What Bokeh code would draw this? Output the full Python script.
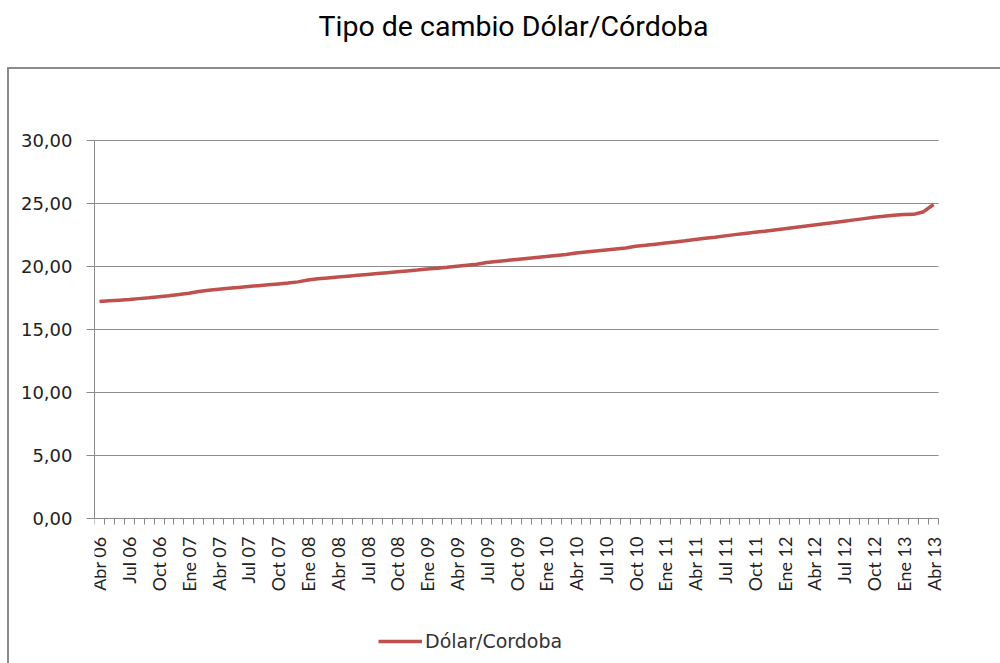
import math
from bokeh.plotting import figure
from bokeh.models import (Range1d, FixedTicker, Legend, LegendItem, Label)
from bokeh.embed import file_html
from bokeh.resources import INLINE

months = ["Abr", "May", "Jun", "Jul", "Ago", "Sep", "Oct", "Nov", "Dic"] + \
         ["Ene", "Feb", "Mar", "Abr", "May", "Jun", "Jul", "Ago", "Sep", "Oct", "Nov", "Dic"] * 6 + \
         ["Ene", "Feb", "Mar", "Abr"]
years = ["06"] * 9 + ["07"] * 12 + ["08"] * 12 + ["09"] * 12 + ["10"] * 12 + ["11"] * 12 + ["12"] * 12 + ["13"] * 4
categories = [f"{m} {y}" for m, y in zip(months, years)]

rate_2006 = [17.22, 17.28, 17.33, 17.38, 17.45, 17.52, 17.60, 17.68, 17.77]
rate_2007 = [17.88, 18.02, 18.12, 18.20, 18.27, 18.34, 18.41, 18.48, 18.55, 18.62, 18.69, 18.78]
rate_2008 = [18.93, 19.02, 19.09, 19.16, 19.23, 19.30, 19.37, 19.44, 19.51, 19.58, 19.65, 19.72]
rate_2009 = [19.80, 19.87, 19.94, 20.02, 20.10, 20.18, 20.32, 20.40, 20.48, 20.56, 20.64, 20.72]
rate_2010 = [20.80, 20.88, 20.96, 21.07, 21.15, 21.23, 21.31, 21.39, 21.47, 21.60, 21.68, 21.77]
rate_2011 = [21.86, 21.95, 22.04, 22.15, 22.24, 22.33, 22.43, 22.53, 22.62, 22.71, 22.80, 22.90]
rate_2012 = [23.00, 23.10, 23.20, 23.30, 23.40, 23.50, 23.60, 23.70, 23.80, 23.90, 23.98, 24.06]
rate_2013 = [24.12, 24.14, 24.35, 24.92]
rates = rate_2006 + rate_2007 + rate_2008 + rate_2009 + rate_2010 + rate_2011 + rate_2012 + rate_2013

y_ticks = [0, 5, 10, 15, 20, 25, 30]
y_tick_labels = ["0,00", "5,00", "10,00", "15,00", "20,00", "25,00", "30,00"]

n = len(categories)
xs = [i + 0.5 for i in range(n)]

W, H = 1000, 663
plot_left, plot_right = 94, 938   # pixel columns of the category axis ends
y0_px, y30_px = 518, 140          # pixel rows of 0 and 30
ppu = (y0_px - y30_px) / 30.0
ppx = (plot_right - plot_left) / n
x_hi = n + (W - plot_right) / ppx
y_lo = -(H - y0_px) / ppu
y_hi = 30 + y30_px / ppu

p = figure(width=W, height=H, output_backend="svg", toolbar_location=None, title=None,
           x_range=Range1d(0, x_hi), y_range=Range1d(y_lo, y_hi),
           min_border_left=plot_left, min_border_right=0,
           min_border_top=0, min_border_bottom=0)
p.outline_line_color = None
p.background_fill_alpha = 0
p.border_fill_alpha = 0

# Outer chart-area border (CSS lines behind the transparent canvas)
p.styles = {
    "background-color": "white",
    "background-image": "linear-gradient(#8a8a8a, #8a8a8a), linear-gradient(#8a8a8a, #8a8a8a)",
    "background-size": "2px 600px, 1000px 2px",
    "background-position": "7px 67px, 7px 67px",
    "background-repeat": "no-repeat",
}

# Title
p.add_layout(Label(x=(513 - plot_left) / ppx, y=30 + (y30_px - 26) / ppu,
                   text="Tipo de cambio Dólar/Córdoba",
                   text_align="center", text_baseline="alphabetic",
                   text_font="Roboto", text_font_size="28.5px", text_color="black"))

# Horizontal gridlines at the y ticks, spanning the category axis
p.xgrid.grid_line_color = None
p.ygrid.grid_line_color = None
p.segment(x0=0, x1=n, y0=y_ticks, y1=y_ticks, line_color="#8c8c8c", line_width=1)

line = p.line(xs, rates, line_color="#C0504D", line_width=3.5)

# X axis, fixed at y = 0
xax = p.xaxis[0]
xax.fixed_location = 0
xax.bounds = (0, n)
label_ticks = [i + 0.5 for i in range(0, n, 3)]
xax.ticker = FixedTicker(ticks=label_ticks, minor_ticks=list(range(n + 1)))
xax.major_label_overrides = {i + 0.5: categories[i] for i in range(0, n, 3)}
xax.major_label_orientation = math.pi / 2
xax.major_tick_out = 0
xax.major_tick_in = 0
xax.minor_tick_out = 6
xax.minor_tick_in = 0
xax.minor_tick_line_color = "#8a8a8a"
xax.axis_line_color = "#8a8a8a"
xax.major_label_text_font = "Lato"
xax.major_label_text_font_size = "18px"
xax.major_label_text_color = "#222222"
xax.major_label_standoff = 12

# Y axis
yax = p.yaxis[0]
yax.bounds = (0, 30)
yax.ticker = FixedTicker(ticks=y_ticks, minor_ticks=[])
yax.major_label_overrides = {t: l for t, l in zip(y_ticks, y_tick_labels)}
yax.major_tick_out = 8
yax.major_tick_in = 0
yax.major_tick_line_color = "#8a8a8a"
yax.axis_line_color = "#8a8a8a"
yax.major_label_text_font = "DejaVu Sans"
yax.major_label_text_font_size = "18px"
yax.major_label_text_color = "#222222"
yax.major_label_standoff = 14

legend = Legend(items=[LegendItem(label="Dólar/Cordoba", renderers=[line])],
                location=(284, 11), orientation="horizontal",
                border_line_color=None, background_fill_alpha=0,
                label_text_font="DejaVu Sans", label_text_font_size="19px",
                label_text_color="#333333", glyph_width=44, label_standoff=3,
                padding=0, margin=0)
p.add_layout(legend, "center")

open("out.html", "w").write(file_html(p, INLINE))
